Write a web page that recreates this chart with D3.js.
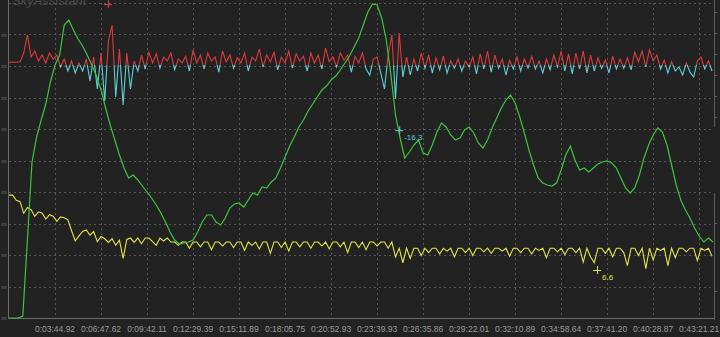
<!DOCTYPE html>
<html>
<head>
<meta charset="utf-8">
<script src="https://cdn.jsdelivr.net/npm/d3@7"></script>
<style>
  html, body { margin: 0; padding: 0; background: #222222; }
  svg { display: block; }
  .tick-label { font-family: "Liberation Sans", Arial, sans-serif; font-size: 8.5px; fill: #9a9a9a; }
</style>
</head>
<body>
<svg id="chart" width="720" height="337"></svg>
<script>
// x tick labels (one per grid column)
const tickLabels = ['0:03:44.92', '0:06:47.62', '0:09:42.11', '0:12:29.39', '0:15:11.89',
  '0:18:05.75', '0:20:52.93', '0:23:39.93', '0:26:35.86', '0:29:22.01', '0:32:10.89',
  '0:34:58.64', '0:37:41.20', '0:40:28.87', '0:43:21.21'];

// altitude (m), one sample every 0.1 tick column
const altStep = 0.1;
const altitude = [
  0, 0, 0, 20, 780, 1560, 1810, 1980, 2140, 2360,
  2530, 2630, 2930, 2980, 2880, 2790, 2720, 2630, 2530, 2420,
  2280, 2100, 1930, 1780, 1630, 1500, 1400, 1430, 1380, 1320,
  1260, 1200, 1130, 1050, 960, 860, 780, 740, 750, 760,
  780, 860, 960, 1030, 1030, 960, 930, 1000, 1100, 1140,
  1150, 1110, 1180, 1250, 1230, 1310, 1300, 1360, 1400, 1500,
  1610, 1720, 1810, 1910, 1980, 2070, 2140, 2210, 2280, 2320,
  2380, 2420, 2480, 2550, 2620, 2710, 2800, 2930, 3060, 3140,
  3130, 3000, 2780, 2430, 2030, 1800, 1600, 1660, 1730, 1780,
  1650, 1630, 1730, 1860, 1950, 1910, 1830, 1780, 1800, 1880,
  1910, 1850, 1750, 1700, 1780, 1900, 2000, 2100, 2180, 2230,
  2150, 2010, 1850, 1680, 1530, 1400, 1350, 1330, 1320, 1350,
  1480, 1630, 1720, 1580, 1480, 1500, 1460, 1500, 1540, 1560,
  1570, 1550, 1500, 1400, 1300, 1250, 1300, 1430, 1600, 1730,
  1830, 1900, 1860, 1730, 1530, 1330, 1180, 1080, 1000, 900,
  820, 760, 800, 760
];

// vario (m/s) and speed, one sample every 0.08 tick column
const sampleStep = 0.08;
const vario = [
  0.7, 0.7, 0.7, 0.8, 3.0, 7.5, 2.0, 3.5, 1.0, 2.5,
  0.5, 3.0, 1.5, 2.5, -0.5, 1.5, -1.5, 1.0, -2.0, 0.5,
  -1.5, 1.5, -4.0, 2.0, -6.0, 3.0, -9.0, 6.0, 10.0, -8.0,
  4.0, -10.0, 3.0, -6.0, 1.0, -1.5, 2.5, -1.0, 3.2, 0.5,
  2.8, -0.8, 2.0, 1.0, 3.0, -1.2, 1.5, 0.5, 2.2, -1.5,
  3.8, 0.5, 2.5, -1.0, 3.0, 1.0, 2.0, -1.8, 3.5, 0.8,
  2.5, -0.8, 1.8, 0.5, 3.0, -1.5, 2.0, 1.0, 4.0, -0.5,
  2.5, 0.8, 3.2, -1.2, 2.0, 0.5, 3.5, -0.8, 2.8, 1.0,
  2.2, -1.5, 3.0, 0.5, 2.5, -1.0, 4.2, 0.8, 2.0, -0.5,
  3.0, 1.2, 2.5, -1.8, 2.2, 0.5, 3.0, -1.0, -2.5, 1.5,
  2.0, -2.0, -6.0, 2.5, 7.5, -8.5, 8.0, -3.0, 2.0, -2.5,
  1.5, -1.5, 3.0, -0.8, 2.5, -2.0, 1.8, -1.2, 2.2, -2.0,
  1.0, -0.8, 1.5, -1.5, 1.0, -0.5, 2.0, -2.2, 2.8, -1.0,
  3.5, -1.8, 2.5, -0.8, 1.5, -2.5, 1.2, -1.0, 2.0, -1.5,
  1.5, -0.8, 2.2, -1.0, 1.0, -2.0, 1.5, -1.2, 2.5, -0.5,
  3.5, -1.5, 2.8, -2.2, 3.0, -1.0, 3.5, -2.0, 2.5, -1.5,
  1.8, -0.8, 1.2, -2.0, 2.2, -1.0, 1.5, -0.8, 1.8, -1.2,
  3.2, 0.8, 3.5, -0.5, 3.8, 1.0, 2.5, -1.0, 1.2, -2.0,
  0.8, -1.5, -0.5, -2.5, 0.5, -1.8, -3.0, 1.0, 2.0, -1.0,
  1.0, -1.5
];
const speed = [
  16.9, 16.9, 16.2, 16.0, 14.4, 15.2, 14.9, 14.0, 14.6, 14.4,
  13.6, 14.2, 14.0, 13.3, 13.9, 13.8, 13.5, 12.0, 10.6, 11.3,
  11.9, 12.1, 11.4, 11.9, 10.5, 11.2, 10.9, 10.4, 10.9, 10.0,
  10.7, 8.2, 10.8, 11.0, 10.4, 11.0, 10.2, 11.0, 11.0, 10.5,
  10.0, 11.0, 10.6, 11.0, 10.45, 10.45, 10.0, 10.45, 10.45, 9.6,
  10.45, 10.45, 9.8, 10.45, 10.45, 9.4, 10.45, 10.45, 9.9, 10.45,
  10.45, 9.7, 10.45, 10.45, 9.3, 10.45, 10.0, 10.45, 9.5, 10.45,
  10.45, 8.9, 10.45, 10.45, 9.7, 10.45, 9.2, 10.45, 10.45, 9.8,
  10.45, 10.45, 9.6, 10.45, 10.45, 9.9, 10.45, 9.5, 10.45, 10.45,
  9.8, 10.45, 9.0, 10.45, 10.45, 9.7, 10.45, 9.4, 10.45, 10.45,
  9.9, 10.45, 10.45, 9.6, 10.45, 8.4, 9.6, 7.6, 9.6, 8.2,
  9.6, 9.6, 8.6, 9.6, 9.0, 9.6, 9.6, 8.8, 9.6, 9.2,
  9.6, 8.4, 9.6, 9.6, 9.0, 9.6, 8.6, 9.6, 9.6, 9.1,
  9.6, 8.9, 9.6, 9.6, 9.2, 9.6, 8.5, 9.6, 9.6, 9.0,
  9.6, 9.6, 8.8, 9.6, 9.3, 9.6, 8.3, 9.6, 9.6, 9.1,
  9.6, 8.7, 9.6, 9.6, 9.0, 9.6, 7.7, 9.6, 8.4, 7.6,
  9.6, 9.6, 8.9, 9.6, 8.4, 9.6, 9.6, 9.0, 7.2, 9.6,
  9.6, 8.6, 9.6, 6.8, 9.6, 8.0, 9.6, 9.3, 9.6, 7.2,
  9.6, 8.3, 9.6, 9.6, 9.1, 9.6, 9.6, 7.9, 9.6, 9.3,
  9.6, 8.5
];

// extreme markers
const varioMax = { t: 2.15, v: 15.2 };
const varioMin = { t: 8.48, v: -16.3 };
const speedMin = { t: 12.78, v: 6.6 };

const width = 720, height = 337;
const svg = d3.select('#chart');

const x = d3.scaleLinear().domain([0, 15.3]).range([9, 713]);
const yGrid = d3.scaleLinear().domain([0, 10]).range([318, 3]);
const yAlt = d3.scaleLinear().domain([0, 3150]).range([318, 3]);
const yVario = d3.scaleLinear().domain([0, 10]).range([65, 25]);
const ySpeed = d3.scaleLinear().domain([0, 10]).range([318, 245.3]);

// dotted grid
const grid = svg.append('g')
  .attr('stroke', '#575757')
  .attr('stroke-dasharray', '2,3')
  .attr('stroke-width', 1);

grid.selectAll('line.h')
  .data(d3.range(1, 11))
  .enter()
  .append('line')
  .attr('x1', 9).attr('x2', 713)
  .attr('y1', d => Math.round(yGrid(d)) + 0.5)
  .attr('y2', d => Math.round(yGrid(d)) + 0.5);

grid.selectAll('line.v')
  .data(d3.range(1, tickLabels.length + 1))
  .enter()
  .append('line')
  .attr('x1', d => Math.round(x(d)) + 0.5)
  .attr('x2', d => Math.round(x(d)) + 0.5)
  .attr('y1', 3).attr('y2', 318);

// watermark
svg.append('text')
  .attr('x', 12)
  .attr('y', 5)
  .attr('font-family', '"Liberation Sans", Arial, sans-serif')
  .attr('font-style', 'italic')
  .attr('font-size', 13)
  .attr('fill', '#4a4a4a')
  .text('SkyAssistant');

// axes frame
svg.append('line')
  .attr('x1', 8.5).attr('x2', 8.5).attr('y1', 0).attr('y2', 319)
  .attr('stroke', '#6a6a6a');
svg.append('line')
  .attr('x1', 8).attr('x2', 714).attr('y1', 318.5).attr('y2', 318.5)
  .attr('stroke', '#6a6a6a');

// right side axes
svg.append('line')
  .attr('x1', 714.5).attr('x2', 714.5).attr('y1', 0).attr('y2', 127)
  .attr('stroke', '#5a5a5a');
svg.append('line')
  .attr('x1', 714.5).attr('x2', 714.5).attr('y1', 193).attr('y2', 320)
  .attr('stroke', '#5a5a5a');
svg.selectAll('line.rtick')
  .data([12, 33, 54, 75, 96, 117, 223, 291])
  .enter()
  .append('line')
  .attr('x1', 714).attr('x2', 717)
  .attr('y1', d => d + 0.5).attr('y2', d => d + 0.5)
  .attr('stroke', '#5a5a5a');

// left axis unit labels
svg.selectAll('text.ylab')
  .data(d3.range(0, 10))
  .enter()
  .append('text')
  .attr('x', 1.5)
  .attr('y', d => yGrid(d) + 2)
  .attr('font-family', '"Liberation Sans", Arial, sans-serif')
  .attr('font-size', 6)
  .attr('fill', '#777')
  .text('m');

// x tick labels
svg.selectAll('text.xlab')
  .data(tickLabels)
  .enter()
  .append('text')
  .attr('class', 'tick-label')
  .attr('x', (d, i) => x(i + 1))
  .attr('y', 332)
  .attr('text-anchor', 'middle')
  .text(d => d);

// speed (yellow)
const speedLine = d3.line()
  .x((d, i) => x(i * sampleStep))
  .y(d => ySpeed(d));
svg.append('path')
  .datum(speed)
  .attr('d', speedLine)
  .attr('fill', 'none')
  .attr('stroke', '#e4e44c')
  .attr('stroke-width', 1.1);

// vario (red above zero, cyan below)
const defs = svg.append('defs');
defs.append('clipPath').attr('id', 'clip-up')
  .append('rect').attr('x', 0).attr('y', 0).attr('width', width).attr('height', yVario(0));
defs.append('clipPath').attr('id', 'clip-down')
  .append('rect').attr('x', 0).attr('y', yVario(0)).attr('width', width).attr('height', height);

const varioLine = d3.line()
  .x((d, i) => x(i * sampleStep))
  .y(d => yVario(d));
svg.append('path')
  .datum(vario)
  .attr('d', varioLine)
  .attr('clip-path', 'url(#clip-down)')
  .attr('fill', 'none')
  .attr('stroke', '#5fcfd8')
  .attr('stroke-width', 1.1);
svg.append('path')
  .datum(vario)
  .attr('d', varioLine)
  .attr('clip-path', 'url(#clip-up)')
  .attr('fill', 'none')
  .attr('stroke', '#e0393b')
  .attr('stroke-width', 1.1);

// altitude (green)
const altLine = d3.line()
  .x((d, i) => x(i * altStep))
  .y(d => yAlt(d));
svg.append('path')
  .datum(altitude)
  .attr('d', altLine)
  .attr('fill', 'none')
  .attr('stroke', '#3fc43f')
  .attr('stroke-width', 1.2);

// markers
function marker(px, py, color, label) {
  const g = svg.append('g').attr('stroke', color).attr('stroke-width', 1);
  g.append('line').attr('x1', px - 4).attr('x2', px + 4).attr('y1', py + 0.5).attr('y2', py + 0.5);
  g.append('line').attr('x1', px + 0.5).attr('x2', px + 0.5).attr('y1', py - 4).attr('y2', py + 4);
  if (label) {
    svg.append('text')
      .attr('x', px + 5)
      .attr('y', py + 10)
      .attr('font-family', '"Liberation Sans", Arial, sans-serif')
      .attr('font-size', 8)
      .attr('fill', color)
      .text(label);
  }
}
marker(x(varioMax.t), yVario(varioMax.v), '#e0393b', null);
marker(x(varioMin.t), yVario(varioMin.v), '#5fcfd8', varioMin.v.toFixed(1));
marker(x(speedMin.t), ySpeed(speedMin.v), '#e4e44c', speedMin.v.toFixed(1));
</script>
</body>
</html>
